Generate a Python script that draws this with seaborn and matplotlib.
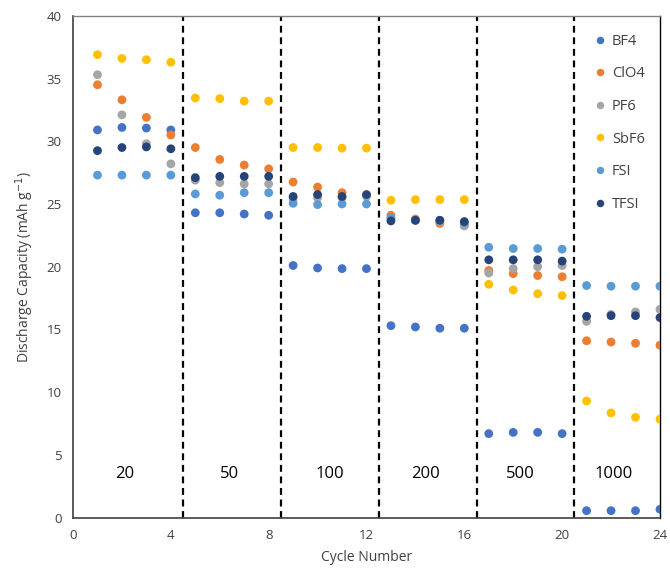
import matplotlib
matplotlib.use("Agg")
import matplotlib.pyplot as plt
import seaborn as sns
import pandas as pd

# ---- data ----
cycles = list(range(1, 25))
salts = ["BF4", "ClO4", "PF6", "SbF6", "FSI", "TFSI"]

bf4 = [30.9, 31.1, 31.05, 30.9, 24.3, 24.3, 24.2, 24.1, 20.1, 19.9, 19.85, 19.85,
       15.3, 15.2, 15.1, 15.1, 6.7, 6.8, 6.8, 6.7, 0.56, 0.56, 0.56, 0.67]
clo4 = [34.5, 33.3, 31.9, 30.5, 29.5, 28.55, 28.1, 27.8, 26.75, 26.35, 25.9, 25.7,
        24.1, 23.8, 23.45, 23.3, 19.7, 19.45, 19.3, 19.2, 14.1, 14.0, 13.9, 13.75]
pf6 = [35.3, 32.1, 29.8, 28.2, 26.9, 26.7, 26.6, 26.6, 25.4, 25.5, 25.5, 25.6,
       23.8, 23.7, 23.6, 23.25, 19.5, 19.85, 20.0, 20.1, 15.65, 16.2, 16.4, 16.6]
sbf6 = [36.9, 36.6, 36.5, 36.3, 33.45, 33.4, 33.2, 33.2, 29.5, 29.5, 29.45, 29.45,
        25.3, 25.35, 25.35, 25.35, 18.6, 18.15, 17.85, 17.7, 9.3, 8.35, 8.0, 7.85]
fsi = [27.3, 27.3, 27.3, 27.3, 25.8, 25.7, 25.9, 25.9, 25.05, 24.95, 25.0, 25.0,
       23.9, 23.7, 23.7, 23.5, 21.55, 21.45, 21.45, 21.4, 18.5, 18.45, 18.45, 18.45]
tfsi = [29.25, 29.5, 29.55, 29.4, 27.1, 27.2, 27.2, 27.2, 25.6, 25.75, 25.6, 25.75,
        23.65, 23.7, 23.7, 23.6, 20.55, 20.55, 20.55, 20.45, 16.05, 16.1, 16.1, 15.95]

rates = ["20", "50", "100", "200", "500", "1000"]
rate_x = [2.1, 6.4, 10.5, 14.4, 18.3, 22.1]
dividers = [4.5, 8.5, 12.5, 16.5, 20.5]

colors = ["#4472C4", "#ED7D31", "#A5A5A5", "#FFC000", "#5B9BD5", "#264478"]

df = pd.DataFrame({
    "cycle": cycles * 6,
    "capacity": bf4 + clo4 + pf6 + sbf6 + fsi + tfsi,
    "salt": [s for s in salts for _ in cycles],
})

sns.set_style("white")
plt.rcParams["font.family"] = ["Open Sans", "DejaVu Sans"]

fig = plt.figure(figsize=(6.7, 5.73), dpi=100)
ax = fig.add_axes([0.109, 0.0965, 0.876, 0.876])

for xv in dividers:
    ax.axvline(xv, color="black", linestyle=(0, (3.1, 2.1)), linewidth=1.6, zorder=1)

sns.scatterplot(data=df, x="cycle", y="capacity", hue="salt", hue_order=salts,
                palette=colors, s=40, edgecolor="none", ax=ax, zorder=3, legend=True)

for lab, xv in zip(rates, rate_x):
    ax.text(xv, 3.5, lab, ha="center", va="center", fontsize=12, color="black")

ax.set_xlim(0, 24)
ax.set_ylim(0, 40)
ax.set_xticks(range(0, 25, 4))
ax.set_yticks(range(0, 41, 5))
ax.tick_params(axis="both", length=0, labelsize=9.5, colors="#404040", pad=8)
ax.set_xlabel("Cycle Number", fontsize=10, color="#404040", labelpad=6)
ax.set_ylabel("Discharge Capacity (mAh g$^{-1}$)", fontsize=10, color="#404040", labelpad=8)

for side in ["left", "bottom"]:
    ax.spines[side].set_color("#404040")
    ax.spines[side].set_linewidth(1.2)
ax.spines["top"].set_color("#808080")
ax.spines["top"].set_linewidth(1.0)
ax.spines["right"].set_color("black")
ax.spines["right"].set_linewidth(1.0)

leg = ax.legend(loc="upper left", bbox_to_anchor=(0.876, 0.976), frameon=False,
                fontsize=10.5, labelspacing=1.21, handlelength=1.0, handletextpad=0.3,
                markerscale=0.85, borderaxespad=0)
for t in leg.get_texts():
    t.set_color("#404040")

fig.savefig("out.png", dpi=100)
